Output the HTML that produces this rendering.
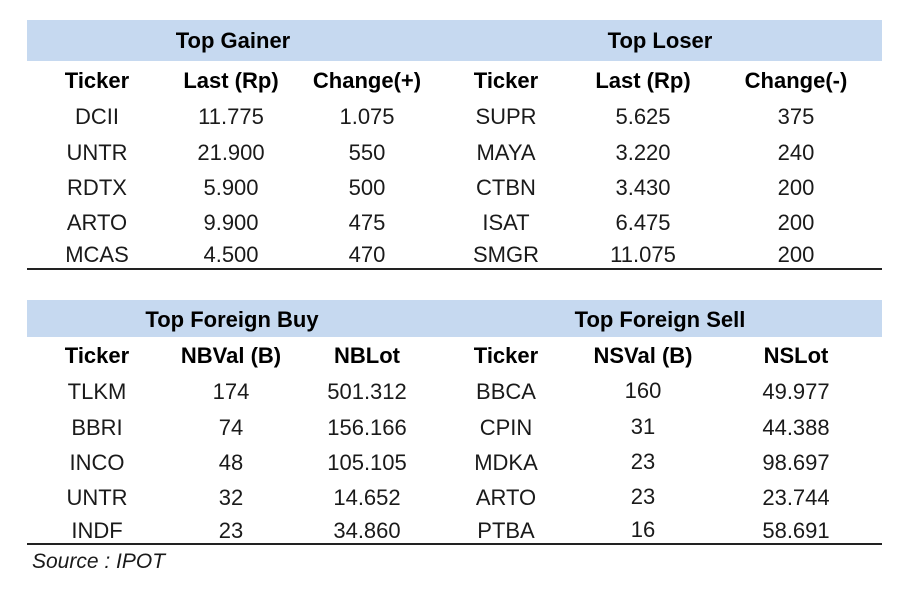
<!DOCTYPE html>
<html><head><meta charset="utf-8"><style>
body{margin:0;width:900px;height:599px;background:#fff;position:relative;overflow:hidden;font-family:"Liberation Sans",sans-serif;color:#1a1a1a}
.bar{position:absolute;left:27px;width:855px;background:#c6d9f0}
.line{position:absolute;left:27px;width:855px;height:2px;background:#222}
.t{position:absolute;width:200px;margin-left:-100px;text-align:center;font-size:22px;line-height:28px;white-space:nowrap}
.b{font-weight:bold;color:#000}
</style></head><body>
<div class="bar" style="top:20px;height:41px"></div>
<div class="bar" style="top:300px;height:37px"></div>
<div class="line" style="top:268px"></div>
<div class="line" style="top:543px"></div>

<div class="t b" style="left:233px;top:27px">Top Gainer</div>
<div class="t b" style="left:660px;top:27px">Top Loser</div>
<div class="t b" style="left:232px;top:306px">Top Foreign Buy</div>
<div class="t b" style="left:660px;top:306px">Top Foreign Sell</div>

<div>
<div class="t b" style="left:97px;top:67px">Ticker</div>
<div class="t b" style="left:231px;top:67px">Last (Rp)</div>
<div class="t b" style="left:367px;top:67px">Change(+)</div>
<div class="t b" style="left:506px;top:67px">Ticker</div>
<div class="t b" style="left:643px;top:67px">Last (Rp)</div>
<div class="t b" style="left:796px;top:67px">Change(-)</div>

<div class="t" style="left:97px;top:103px">DCII</div>
<div class="t" style="left:231px;top:103px">11.775</div>
<div class="t" style="left:367px;top:103px">1.075</div>
<div class="t" style="left:506px;top:103px">SUPR</div>
<div class="t" style="left:643px;top:103px">5.625</div>
<div class="t" style="left:796px;top:103px">375</div>

<div class="t" style="left:97px;top:139px">UNTR</div>
<div class="t" style="left:231px;top:139px">21.900</div>
<div class="t" style="left:367px;top:139px">550</div>
<div class="t" style="left:506px;top:139px">MAYA</div>
<div class="t" style="left:643px;top:139px">3.220</div>
<div class="t" style="left:796px;top:139px">240</div>

<div class="t" style="left:97px;top:174px">RDTX</div>
<div class="t" style="left:231px;top:174px">5.900</div>
<div class="t" style="left:367px;top:174px">500</div>
<div class="t" style="left:506px;top:174px">CTBN</div>
<div class="t" style="left:643px;top:174px">3.430</div>
<div class="t" style="left:796px;top:174px">200</div>

<div class="t" style="left:97px;top:209px">ARTO</div>
<div class="t" style="left:231px;top:209px">9.900</div>
<div class="t" style="left:367px;top:209px">475</div>
<div class="t" style="left:506px;top:209px">ISAT</div>
<div class="t" style="left:643px;top:209px">6.475</div>
<div class="t" style="left:796px;top:209px">200</div>

<div class="t" style="left:97px;top:241px">MCAS</div>
<div class="t" style="left:231px;top:241px">4.500</div>
<div class="t" style="left:367px;top:241px">470</div>
<div class="t" style="left:506px;top:241px">SMGR</div>
<div class="t" style="left:643px;top:241px">11.075</div>
<div class="t" style="left:796px;top:241px">200</div>
</div>

<div>
<div class="t b" style="left:97px;top:342px">Ticker</div>
<div class="t b" style="left:231px;top:342px">NBVal (B)</div>
<div class="t b" style="left:367px;top:342px">NBLot</div>
<div class="t b" style="left:506px;top:342px">Ticker</div>
<div class="t b" style="left:643px;top:342px">NSVal (B)</div>
<div class="t b" style="left:796px;top:342px">NSLot</div>

<div class="t" style="left:97px;top:378px">TLKM</div>
<div class="t" style="left:231px;top:378px">174</div>
<div class="t" style="left:367px;top:378px">501.312</div>
<div class="t" style="left:506px;top:378px">BBCA</div>
<div class="t" style="left:643px;top:377px">160</div>
<div class="t" style="left:796px;top:378px">49.977</div>

<div class="t" style="left:97px;top:414px">BBRI</div>
<div class="t" style="left:231px;top:414px">74</div>
<div class="t" style="left:367px;top:414px">156.166</div>
<div class="t" style="left:506px;top:414px">CPIN</div>
<div class="t" style="left:643px;top:413px">31</div>
<div class="t" style="left:796px;top:414px">44.388</div>

<div class="t" style="left:97px;top:449px">INCO</div>
<div class="t" style="left:231px;top:449px">48</div>
<div class="t" style="left:367px;top:449px">105.105</div>
<div class="t" style="left:506px;top:449px">MDKA</div>
<div class="t" style="left:643px;top:448px">23</div>
<div class="t" style="left:796px;top:449px">98.697</div>

<div class="t" style="left:97px;top:484px">UNTR</div>
<div class="t" style="left:231px;top:484px">32</div>
<div class="t" style="left:367px;top:484px">14.652</div>
<div class="t" style="left:506px;top:484px">ARTO</div>
<div class="t" style="left:643px;top:483px">23</div>
<div class="t" style="left:796px;top:484px">23.744</div>

<div class="t" style="left:97px;top:517px">INDF</div>
<div class="t" style="left:231px;top:517px">23</div>
<div class="t" style="left:367px;top:517px">34.860</div>
<div class="t" style="left:506px;top:517px">PTBA</div>
<div class="t" style="left:643px;top:516px">16</div>
<div class="t" style="left:796px;top:517px">58.691</div>
</div>

<div style="position:absolute;left:32px;top:549px;font-size:21px;line-height:26px;font-style:italic">Source : IPOT</div>
</body></html>
